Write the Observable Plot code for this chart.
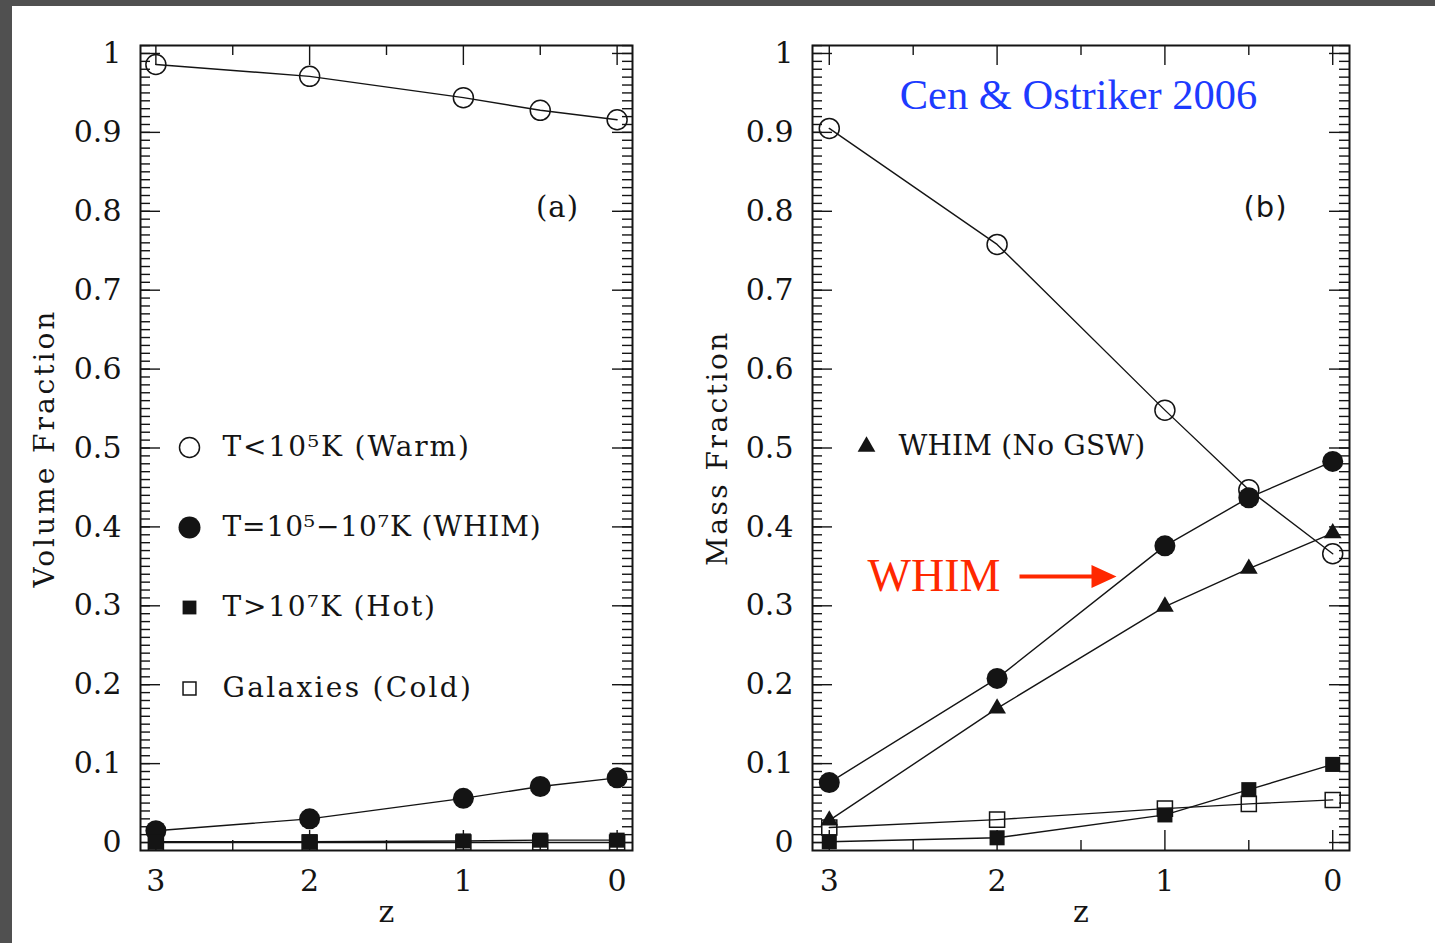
<!DOCTYPE html>
<html><head><meta charset="utf-8">
<script src="https://cdn.jsdelivr.net/npm/d3@7"></script>
<script src="https://cdn.jsdelivr.net/npm/@observablehq/plot@0.6"></script>
<style>
html,body{margin:0;padding:0;background:#fff;}
#page{position:relative;width:1435px;height:943px;background:#fff;overflow:hidden;}
#bt{position:absolute;left:0;top:0;width:1435px;height:6px;background:#505050;}
#bl{position:absolute;left:0;top:0;width:12px;height:943px;background:#505050;}
.panel{position:absolute;top:0;}
</style></head><body>
<div id="page"><div id="bt"></div><div id="bl"></div>
<div id="pa" class="panel" style="left:0"></div>
<div id="pb" class="panel" style="left:717px"></div></div>
<script>
// ---- data ----
const redshift = [3, 2, 1, 0.5, 0];
// panel (a): volume fraction
const volWarm = [0.986, 0.971, 0.944, 0.928, 0.916];
const volWhim = [0.015, 0.030, 0.056, 0.071, 0.082];
const volHot  = [0.001, 0.001, 0.002, 0.003, 0.003];
const volCold = [0.000, 0.000, 0.000, 0.000, 0.000];
// panel (b): mass fraction
const massWarm     = [0.905, 0.758, 0.548, 0.447, 0.366];
const massWhim     = [0.076, 0.208, 0.376, 0.437, 0.483];
const massWhimNoGSW= [0.028, 0.170, 0.299, 0.347, 0.392];
const massHot      = [0.001, 0.006, 0.035, 0.067, 0.099];
const massCold     = [0.019, 0.029, 0.043, 0.049, 0.054];
// ticks
const xTickLabels = [3, 2, 1, 0];
const xMinorTicks = [2.5, 1.5, 0.5];
const yTickLabels = [0, 0.1, 0.2, 0.3, 0.4, 0.5, 0.6, 0.7, 0.8, 0.9, 1];
const yMinorTicks = d3.range(0, 102).map(i => i / 100);
// legend labels
const legendA = ["T<10⁵K (Warm)", "T=10⁵−10⁷K (WHIM)", "T>10⁷K (Hot)", "Galaxies (Cold)"];
const legendB = ["WHIM (No GSW)"];
const titleB = "Cen & Ostriker 2006";
const annotB = "WHIM";
const yTitleA = "Volume Fraction";
const yTitleB = "Mass Fraction";

const ink = "#141414";
const FONT = "DejaVu Serif";
const rows = vals => redshift.map((z, i) => ({z, v: vals[i]}));

// letter spacing (px) per label, to imitate the wide original typeface
const spacing = new Map([
  [legendA[0], 1.9], [legendA[1], 0.9], [legendA[2], 1.75], [legendA[3], 2.3],
  [legendB[0], 0.2], [yTitleA, 3], [yTitleB, 2.5], ["(a)", 1], ["(b)", 1]
]);

const sym = {
  warm: {symbol: "circle", r: 10, fill: "none", stroke: ink, strokeWidth: 1.5},
  whim: {symbol: "circle", r: 10.5, fill: ink, stroke: "none"},
  hot:  {symbol: "square", r: 8.5, fill: ink, stroke: "none"},
  cold: {symbol: "square", r: 8.5, fill: "none", stroke: ink, strokeWidth: 1.5},
  tri:  {symbol: "triangle", r: 6.6, fill: ink, stroke: "none"}
};
const legSym = {
  warm: {...sym.warm, r: 10},
  whim: {...sym.whim, r: 11},
  hot:  {...sym.hot, r: 7.8},
  cold: {...sym.cold, r: 7.3},
  tri:  {...sym.tri, r: 6.6}
};

const arrowShape = {
  draw(ctx, l) {
    const h = 25, w = 11.5, t = 2;
    ctx.moveTo(-t, 0);
    ctx.lineTo(t, 0);
    ctx.lineTo(t, -(l - h));
    ctx.lineTo(w, -(l - h));
    ctx.lineTo(0, -l);
    ctx.lineTo(-w, -(l - h));
    ctx.lineTo(-t, -(l - h));
    ctx.closePath();
  }
};

function makePanel({width, ml, mr, series, yTitle, titleDx, tag, tagDx, tagFont, legend, extra = []}) {
  const mt = 45, mb = 93, height = 943;
  const W = width - ml - mr, H = height - mt - mb;
  const tk = {stroke: ink, strokeWidth: 1.4};
  const mid = {textAnchor: "middle", lineAnchor: "middle"};
  const marks = [
    Plot.tickY(yMinorTicks, {y: d => d, insetRight: W - 10, ...tk}),
    Plot.tickY(yMinorTicks, {y: d => d, insetLeft: W - 10, ...tk}),
    Plot.tickY(yTickLabels, {y: d => d, insetRight: W - 20, ...tk}),
    Plot.tickY(yTickLabels, {y: d => d, insetLeft: W - 20, ...tk}),
    Plot.tickX(xTickLabels, {x: d => d, insetTop: H - 20, ...tk}),
    Plot.tickX(xTickLabels, {x: d => d, insetBottom: H - 20, ...tk}),
    Plot.tickX(xMinorTicks, {x: d => d, insetTop: H - 10, ...tk}),
    Plot.tickX(xMinorTicks, {x: d => d, insetBottom: H - 10, ...tk}),
    Plot.frame({stroke: ink, strokeWidth: 2}),
    ...series.map(s => Plot.line(rows(s.values), {x: "z", y: "v", stroke: ink, strokeWidth: 1.4})),
    ...series.map(s => Plot.dot(rows(s.values), {x: "z", y: "v", ...s.style})),
    Plot.text(xTickLabels, {x: d => d, frameAnchor: "bottom", dy: 31, text: d => String(d), fill: ink, ...mid}),
    Plot.text(yTickLabels, {y: d => d, frameAnchor: "left", dx: -19, textAnchor: "end", lineAnchor: "middle", text: d => String(d), fill: ink}),
    Plot.text([yTitle], {frameAnchor: "left", dx: titleDx, rotate: -90, fill: ink, fontSize: 28, ...mid}),
    Plot.text(["z"], {frameAnchor: "bottom", dy: 62, fill: ink, ...mid}),
    Plot.text([tag], {frameAnchor: "top-left", dx: tagDx, dy: 162, fontFamily: tagFont, fill: ink, fontSize: 29, ...mid}),
    ...legend.flatMap(L => [
      Plot.dot([L.label], {frameAnchor: "top-left", dx: L.sx, dy: L.dy, ...L.style}),
      Plot.text([L.label], {frameAnchor: "top-left", dx: L.tx, dy: L.dy, textAnchor: "start", lineAnchor: "middle", fill: ink, fontSize: 28})
    ]),
    ...extra
  ];
  const svg = Plot.plot({
    width, height,
    marginLeft: ml, marginRight: mr, marginTop: mt, marginBottom: mb,
    x: {domain: [3.1, -0.1], axis: null},
    y: {domain: [-0.0101, 1.0101], axis: null},
    style: {fontFamily: FONT, fontSize: "30px", background: "none", color: ink, overflow: "visible"},
    marks
  });
  d3.select(svg).selectAll("text").each(function () {
    const s = spacing.get(this.textContent);
    if (s !== undefined) this.setAttribute("letter-spacing", s);
  });
  return svg;
}

const plotA = makePanel({
  width: 717, ml: 140, mr: 85,
  series: [
    {values: volWarm, style: sym.warm},
    {values: volWhim, style: sym.whim},
    {values: volCold, style: sym.cold},
    {values: volHot, style: sym.hot}
  ],
  yTitle: yTitleA, titleDx: -95,
  tag: "(a)", tagDx: 417, tagFont: FONT,
  legend: [
    {label: legendA[0], style: legSym.warm, sx: 49, tx: 82, dy: 402},
    {label: legendA[1], style: legSym.whim, sx: 49, tx: 82, dy: 482},
    {label: legendA[2], style: legSym.hot,  sx: 49, tx: 82, dy: 562},
    {label: legendA[3], style: legSym.cold, sx: 49, tx: 82, dy: 643}
  ]
});

const plotB = makePanel({
  width: 718, ml: 95, mr: 86,
  series: [
    {values: massWarm, style: sym.warm},
    {values: massWhim, style: sym.whim},
    {values: massWhimNoGSW, style: sym.tri},
    {values: massCold, style: sym.cold},
    {values: massHot, style: sym.hot}
  ],
  yTitle: yTitleB, titleDx: -94,
  tag: "(b)", tagDx: 453, tagFont: "DejaVu Sans",
  legend: [
    {label: legendB[0], style: legSym.tri, sx: 54, tx: 86, dy: 401}
  ],
  extra: [
    Plot.text([titleB], {frameAnchor: "top-left", dx: 266, dy: 63, lineAnchor: "bottom", textAnchor: "middle",
      fontFamily: "Liberation Serif", fontSize: 42.5, fill: "#1d3bff"}),
    Plot.text([annotB], {frameAnchor: "top-left", dx: 55, dy: 545, lineAnchor: "bottom", textAnchor: "start",
      fontFamily: "Liberation Serif", fontSize: 46, fill: "#ff2800"}),
    Plot.vector([annotB], {frameAnchor: "top-left", dx: 207, dy: 531, length: 97, rotate: 90, anchor: "start",
      shape: arrowShape, fill: "#ff2800", stroke: "none"})
  ]
});

document.getElementById("pa").appendChild(plotA);
document.getElementById("pb").appendChild(plotB);
</script>
</body></html>
